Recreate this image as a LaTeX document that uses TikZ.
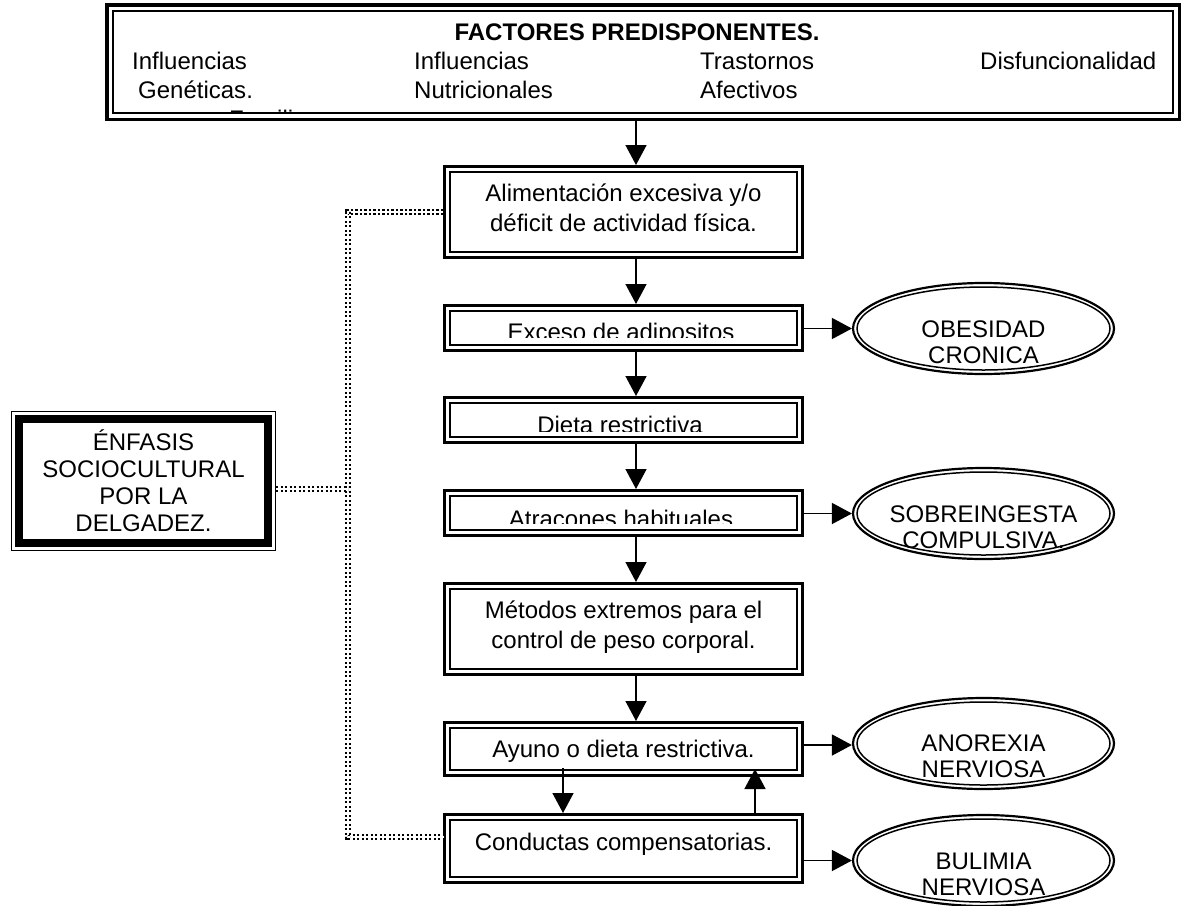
\documentclass[tikz,border=0pt]{standalone}
\usepackage{fontspec}
\setmainfont{Liberation Sans}
\usetikzlibrary{arrows.meta,shapes.geometric}
\begin{document}
\begin{tikzpicture}[x=1pt,y=-1pt,
  txt/.style={inner sep=0pt, align=center, font=\fontsize{24}{29.5}\selectfont},
  etxt/.style={inner sep=0pt, align=center, font=\fontsize{24}{26}\selectfont},
  ltxt/.style={inner sep=0pt, align=center, font=\fontsize{24}{27}\selectfont},
  rowtxt/.style={inner sep=0pt, anchor=base west, font=\fontsize{24}{28}\selectfont},
  dbox/.style={draw, rectangle, line width=3.3pt, inner sep=0pt, minimum width=357.7pt,
    path picture={\draw[line width=2.2pt]
      ([shift={(5.2pt,5.2pt)}]path picture bounding box.south west) rectangle
      ([shift={(-5.2pt,-5.2pt)}]path picture bounding box.north east);}},
  topbox/.style={draw, rectangle, line width=3.5pt, inner sep=0pt,
    minimum width=1072.5pt, minimum height=114.5pt,
    path picture={\draw[line width=2pt]
      ([shift={(6pt,6pt)}]path picture bounding box.south west) rectangle
      ([shift={(-6pt,-6pt)}]path picture bounding box.north east);}},
  sidebox/.style={draw, rectangle, line width=1.4pt, inner sep=0pt,
    minimum width=263.6pt, minimum height=138.6pt,
    path picture={\draw[line width=8pt]
      ([shift={(7.3pt,7.3pt)}]path picture bounding box.south west) rectangle
      ([shift={(-7.3pt,-7.3pt)}]path picture bounding box.north east);}},
  ell/.style={draw, ellipse, line width=2.2pt, inner sep=0pt,
    minimum width=261pt, minimum height=91pt,
    path picture={\draw[line width=1.5pt] (path picture bounding box.center)
      ellipse [x radius=126.5pt, y radius=41.5pt];}},
  arr/.style={line width=1.5pt, -{Triangle[length=20pt,width=21pt]}},
  dotline/.style={line width=1.8pt, double, double distance=2.6pt,
    dash pattern=on 2.2pt off 2.3pt}
]
\useasboundingbox (0,0) rectangle (1190,905);

% --- top frame: predisposing factors ---
\node[topbox] (top) at (643,62) {};
\node[txt, anchor=base, font=\fontsize{24}{28}\selectfont\bfseries] (title) at (637,40) {FACTORES PREDISPONENTES.};
\node[rowtxt] (fa1) at (132,69) {Influencias};
\node[rowtxt] (fa2) at (138,98) {Genéticas.};
\node[rowtxt] (fb1) at (414,69) {Influencias};
\node[rowtxt] (fb2) at (414,98) {Nutricionales};
\node[rowtxt] (fc1) at (700,69) {Trastornos};
\node[rowtxt] (fc2) at (700,98) {Afectivos};
\node[rowtxt] (fd1) at (980,69) {Disfuncionalidad};
\begin{scope}
  \clip ([shift={(8pt,8pt)}]top.south west) rectangle ([shift={(-8pt,-8pt)}]top.north east);
  \node[rowtxt] (fa3) at (229,127) {Familiar};
\end{scope}

% --- main chain of boxes ---
\node[dbox, minimum height=90.7pt] (b1) at (623.5,212) {};
\node[txt, anchor=base] (b1t) at (623.5,231) {Alimentación excesiva y/o\\déficit de actividad física.};

\node[dbox, minimum height=44.7pt] (b2) at (623.5,328) {};
\begin{scope}
  \clip (450,310) rectangle (797,337);
  \node[txt, anchor=base] (b2t) at (621,340) {Exceso de adipositos};
\end{scope}

\node[dbox, minimum height=44.7pt] (b3) at (623.5,420) {};
\begin{scope}
  \clip (450,402) rectangle (797,431.7);
  \node[txt, anchor=base] (b3t) at (620,433.2) {Dieta restrictiva};
\end{scope}

\node[dbox, minimum height=44.7pt] (b4) at (623.5,513) {};
\begin{scope}
  \clip (450,495) rectangle (797,523.3);
  \node[txt, anchor=base] (b4t) at (621,527.2) {Atracones habituales};
\end{scope}

\node[dbox, minimum height=90.7pt] (b5) at (623.5,629) {};
\node[txt, anchor=base] (b5t) at (623.5,648) {Métodos extremos para el\\control de peso corporal.};

\node[dbox, minimum height=52.7pt] (b6) at (623.5,749) {};
\node[txt, anchor=base] (b6t) at (623.5,757) {Ayuno o dieta restrictiva.};

\node[dbox, minimum height=67.7pt] (b7) at (623.5,848.5) {};
\node[txt, anchor=base] (b7t) at (623.5,850) {Conductas compensatorias.};

% --- outcomes ---
\node[ell] (e1) at (983.5,328.5) {};
\node[etxt, anchor=base] (e1t) at (983.5,363) {OBESIDAD\\CRONICA};
\node[ell] (e2) at (983.5,513.5) {};
\node[etxt, anchor=base] (e2t) at (983.5,548) {SOBREINGESTA\\COMPULSIVA.};
\node[ell] (e3) at (983.5,743.5) {};
\node[etxt, anchor=base] (e3t) at (983.5,777) {ANOREXIA\\NERVIOSA};
\node[ell] (e4) at (983.5,860.5) {};
\node[etxt, anchor=base] (e4t) at (983.5,895) {BULIMIA\\NERVIOSA};

% --- sociocultural emphasis ---
\node[sidebox] (enf) at (143.5,481) {};
\node[ltxt, anchor=base] (enft) at (143.5,531) {ÉNFASIS\\SOCIOCULTURAL\\POR LA\\DELGADEZ.};

% --- arrows ---
\coordinate (ax) at (636,0);
\draw[arr] (top.south -| ax) -- (b1.north -| ax);
\draw[arr] (b1.south -| ax) -- (b2.north -| ax);
\draw[arr] (b2.south -| ax) -- (b3.north -| ax);
\draw[arr] (b3.south -| ax) -- (b4.north -| ax);
\draw[arr] (b4.south -| ax) -- (b5.north -| ax);
\draw[arr] (b5.south -| ax) -- (b6.north -| ax);

\coordinate (dx) at (563,768);
\coordinate (ux) at (755,769);
\draw[arr] (dx) -- (b7.north -| dx);
\draw[arr] (b7.north -| ux) -- (ux);

\draw[arr] (b2.east |- e1.west) -- (e1.west);
\draw[arr] (b4.east |- e2.west) -- (e2.west);
\draw[arr] (b6.east |- 0,745) -- (e3.west |- 0,745);
\draw[arr] (b7.east |- e4.west) -- (e4.west);

% --- dotted links ---
\coordinate (jA) at (348,212);
\coordinate (jB) at (348,489);
\coordinate (jC) at (348,837);
\draw[dotline] (b1.west) -- (jA) -- (jC) -- (b7.west |- jC);
\draw[dotline] (enf.east |- jB) -- (jB);
\end{tikzpicture}
\end{document}
